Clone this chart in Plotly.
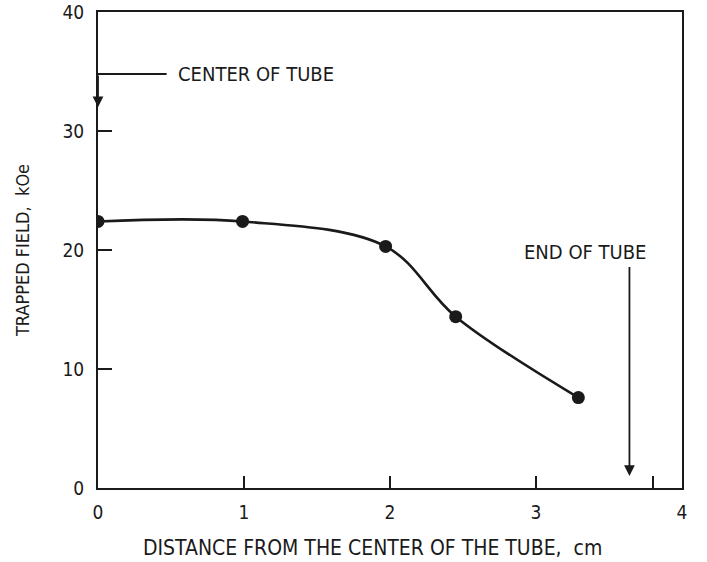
import plotly.graph_objects as go

distance_cm = [0.0, 0.99, 1.97, 2.45, 3.29]
trapped_field_koe = [22.4, 22.4, 20.3, 14.4, 7.6]
x_tick_vals = [0, 1, 2, 3, 3.8, 4]
x_tick_text = ["0", "1", "2", "3", "", "4"]
y_ticks = [0, 10, 20, 30, 40]

FONT = "DejaVu Sans Condensed, Liberation Sans Narrow, sans-serif"
INK = "#1a1a1a"

fig = go.Figure()
fig.add_trace(go.Scatter(
    x=distance_cm, y=trapped_field_koe, mode="lines+markers",
    line=dict(color=INK, width=2.6, shape="spline", smoothing=1.0),
    marker=dict(color=INK, size=13),
    showlegend=False, hoverinfo="skip"))

# "Center of tube" callout
fig.add_shape(type="line", xref="x", yref="y", x0=0, y0=34.8, x1=0.47, y1=34.8,
              line=dict(color=INK, width=2))
fig.add_annotation(x=0, y=32.0, ax=0, ay=34.8, xref="x", yref="y", axref="x", ayref="y",
                   showarrow=True, arrowhead=2, arrowsize=1.2, arrowwidth=1.8,
                   arrowcolor=INK, text="")
fig.add_annotation(x=0.47, y=34.8, xref="x", yref="y", text="CENTER OF TUBE",
                   showarrow=False, xanchor="left", xshift=9,
                   font=dict(family=FONT, size=20, color=INK))

# "End of tube" callout
fig.add_annotation(x=3.64, y=1.0, ax=3.64, ay=18.7, xref="x", yref="y", axref="x", ayref="y",
                   showarrow=True, arrowhead=2, arrowsize=1.2, arrowwidth=1.8,
                   arrowcolor=INK, text="")
fig.add_annotation(x=3.34, y=19.8, xref="x", yref="y", text="END OF TUBE",
                   showarrow=False, font=dict(family=FONT, size=20, color=INK))

# x-axis title (slightly left of the plot centre, as in the original)
fig.add_annotation(x=(372 - 98) / 584, y=-60 / 476, xref="paper", yref="paper",
                   text="DISTANCE FROM THE CENTER OF THE TUBE,  cm", showarrow=False,
                   xanchor="center", yanchor="middle",
                   font=dict(family=FONT, size=21, color=INK))

axis_common = dict(showgrid=False, zeroline=False, showline=True, linecolor=INK,
                   linewidth=2, mirror=True, ticks="inside", tickcolor=INK,
                   tickwidth=2, automargin=False, ticklabeloverflow="allow",
                   tickfont=dict(family=FONT, size=19, color=INK))

fig.update_xaxes(range=[0, 4.0], tickvals=x_tick_vals, ticktext=x_tick_text, ticklen=12,
                 ticklabelstandoff=6, **axis_common)
fig.update_yaxes(range=[0, 40], tickvals=y_ticks, ticklen=14,
                 ticklabelstandoff=8,
                 title=dict(text="TRAPPED FIELD,  kOe",
                            font=dict(family=FONT, size=18, color=INK), standoff=28),
                 **axis_common)

fig.update_layout(width=707, height=562, paper_bgcolor="white", plot_bgcolor="white",
                  margin=dict(l=98, r=25, t=12, b=74), font=dict(family=FONT, color=INK))

fig.write_html("out.html", config={"displayModeBar": False},
               post_script="document.body.style.margin='0';")
